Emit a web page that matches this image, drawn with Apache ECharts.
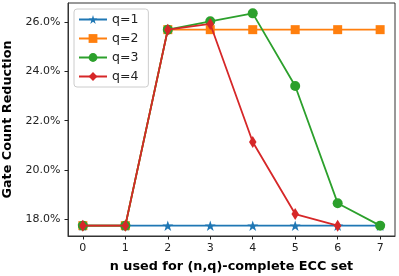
<!DOCTYPE html>
<html>
<head>
<meta charset="utf-8">
<script src="https://cdn.jsdelivr.net/npm/echarts@6/dist/echarts.min.js"></script>
<style>html,body{margin:0;padding:0;background:#fff}#c{width:399px;height:276px}</style>
</head>
<body>
<div id="c"></div>
<script>
var nValues = [0, 1, 2, 3, 4, 5, 6, 7];
var q1 = [17.75, 17.75, 17.75, 17.75, 17.75, 17.75, 17.75, 17.75];
var q2 = [17.75, 17.75, 25.69, 25.69, 25.69, 25.69, 25.69, 25.69];
var q3 = [17.75, 17.75, 25.69, 26.03, 26.35, 23.41, 18.66, 17.75];
var q4 = [17.75, 17.75, 25.69, 25.92, 21.14, 18.22, 17.75];
var yTicks = [18, 20, 22, 24, 26];
var seriesNames = ['q=1', 'q=2', 'q=3', 'q=4'];
var colors = ['#1f77b4', '#ff7f0e', '#2ca02c', '#d62728'];

var star = 'path://M0,-100L22.33,-30.74L95.11,-30.9L36.14,11.74L58.78,80.9L0,38L-58.78,80.9L-36.14,11.74L-95.11,-30.9L-22.33,-30.74Z';
var thinDiamond = 'path://M0,-100L60,0L0,100L-60,0Z';
var symbols = [star, 'rect', 'circle', thinDiamond];
var sizes = [[11, 10.5], 9, 10, [7.5, 12]];

function pairs(vals) { return vals.map(function (v, i) { return [nValues[i], v]; }); }
var all = [q1, q2, q3, q4];

var chart = echarts.init(document.getElementById('c'));
var axisCol = '#222';
chart.setOption({
  animation: false,
  grid: { left: 68, right: 4, top: 3, bottom: 40, show: true, borderColor: '#333', borderWidth: 1,
    backgroundColor: 'transparent', containLabel: false, outerBoundsMode: 'none' },
  xAxis: {
    type: 'value', min: -0.35, max: 7.35,
    name: 'n used for (n,q)-complete ECC set', nameLocation: 'middle', nameGap: 24,
    nameTextStyle: { fontFamily: 'DejaVu Sans', fontWeight: 'bold', fontSize: 12.8, color: '#000' },
    axisLine: { show: true, onZero: false, lineStyle: { color: '#333', width: 1 } },
    splitLine: { show: false },
    axisTick: { show: true, length: 3.5, lineStyle: { color: axisCol }, customValues: nValues },
    axisLabel: { fontFamily: 'DejaVu Sans', fontSize: 11, color: axisCol, margin: 7, customValues: nValues }
  },
  yAxis: {
    type: 'value', min: 17.33, max: 26.77,
    name: 'Gate Count Reduction', nameLocation: 'middle', nameGap: 54, nameRotate: 90,
    nameTextStyle: { fontFamily: 'DejaVu Sans', fontWeight: 'bold', fontSize: 12.8, color: '#000' },
    axisLine: { show: true, onZero: false, lineStyle: { color: '#333', width: 1 } },
    splitLine: { show: false },
    axisTick: { show: true, length: 3.5, lineStyle: { color: axisCol }, customValues: yTicks },
    axisLabel: { fontFamily: 'DejaVu Sans', fontSize: 11, color: axisCol, margin: 7.5, customValues: yTicks,
      formatter: function (v) { return v.toFixed(1) + '%'; } }
  },
  legend: {
    orient: 'vertical', left: 74, top: 9,
    data: seriesNames,
    itemWidth: 28, itemHeight: 11, itemGap: 6,
    padding: [4, 10, 4, 4],
    borderColor: '#cccccc', borderWidth: 1, borderRadius: 3,
    backgroundColor: 'rgba(255,255,255,0.8)',
    textStyle: { fontFamily: 'DejaVu Sans', fontSize: 12.5, color: '#222' }
  },
  series: all.map(function (vals, i) {
    return {
      name: seriesNames[i], type: 'line', data: pairs(vals),
      symbol: symbols[i], symbolSize: sizes[i], showAllSymbol: true,
      lineStyle: { color: colors[i], width: 1.8 },
      itemStyle: { color: colors[i], borderWidth: 0 },
      z: 2 + i
    };
  })
});
</script>
</body>
</html>
